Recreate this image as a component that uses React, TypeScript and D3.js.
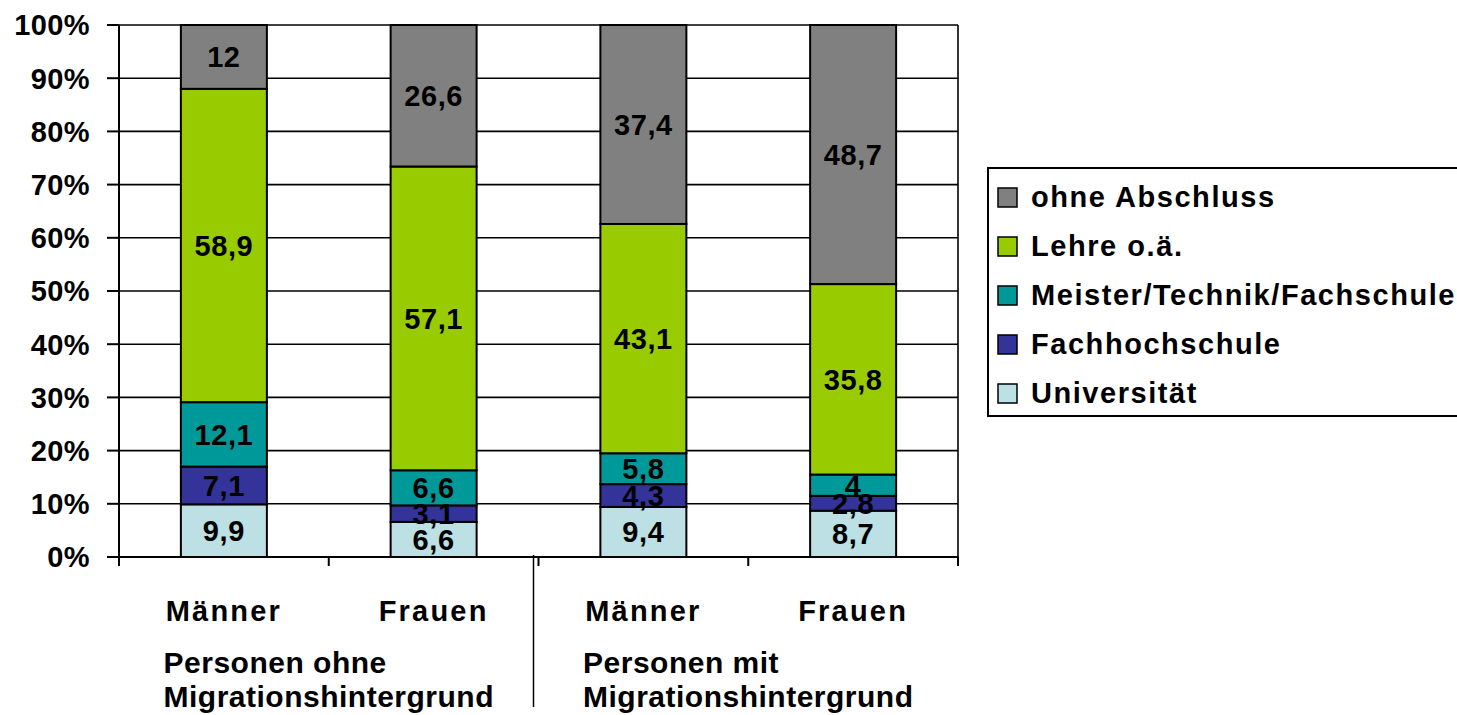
import React, { useEffect, useRef } from 'react';
import * as d3 from 'd3';

const categories = ['Männer', 'Frauen', 'Männer', 'Frauen'];
const groupLabels = [
  ['Personen ohne', 'Migrationshintergrund'],
  ['Personen mit', 'Migrationshintergrund'],
];
const seriesNames = ['Universität', 'Fachhochschule', 'Meister/Technik/Fachschule', 'Lehre o.ä.', 'ohne Abschluss'];
const seriesColors = ['#bce0e3', '#333399', '#009999', '#99cc00', '#808080'];

const universitaet = [9.9, 6.6, 9.4, 8.7];
const fachhochschule = [7.1, 3.1, 4.3, 2.8];
const meister = [12.1, 6.6, 5.8, 4];
const lehre = [58.9, 57.1, 43.1, 35.8];
const ohneAbschluss = [12, 26.6, 37.4, 48.7];

const yTicks = [0, 10, 20, 30, 40, 50, 60, 70, 80, 90, 100];

const FONT = '"Liberation Sans", Arial, Helvetica, sans-serif';

const App: React.FC = () => {
  const svgRef = useRef<SVGSVGElement>(null);

  useEffect(() => {
    if (!svgRef.current) return;
    const svg = d3.select(svgRef.current);
    svg.selectAll('*').remove();

    const width = 1457;
    const height = 715;
    const margin = { left: 119, right: 1457 - 958, top: 25, bottom: 715 - 557 };
    const plotW = width - margin.left - margin.right;
    const plotH = height - margin.top - margin.bottom;

    svg.attr('width', width).attr('height', height)
      .style('font-family', FONT)
      .style('font-weight', 'bold');

    const series = [universitaet, fachhochschule, meister, lehre, ohneAbschluss];
    const table = categories.map((c, i) => {
      const row: any = { idx: i };
      seriesNames.forEach((s, j) => { row[s] = series[j][i]; });
      return row;
    });

    const x = d3.scaleBand<number>()
      .domain(categories.map((_, i) => i))
      .range([0, plotW])
      .paddingInner(0.59)
      .paddingOuter(0.295);
    const step = plotW / categories.length;

    const y = d3.scaleLinear().domain([0, 100]).range([plotH, 0]);

    const g = svg.append('g').attr('transform', `translate(${margin.left},${margin.top})`);

    // gridlines
    g.selectAll('line.grid')
      .data(yTicks.filter(t => t > 0))
      .enter().append('line')
      .attr('x1', 0).attr('x2', plotW)
      .attr('y1', d => y(d)).attr('y2', d => y(d))
      .attr('stroke', '#000').attr('stroke-width', 1.6);

    // right border
    g.append('line')
      .attr('x1', plotW).attr('x2', plotW)
      .attr('y1', 0).attr('y2', plotH)
      .attr('stroke', '#000').attr('stroke-width', 1.6);

    const stack = d3.stack<any>().keys(seriesNames);
    const stacked = stack(table);

    const layers = g.selectAll('g.layer')
      .data(stacked)
      .enter().append('g')
      .attr('fill', (_, i) => seriesColors[i]);

    layers.selectAll('rect')
      .data(d => d)
      .enter().append('rect')
      .attr('x', (d: any) => x(d.data.idx) as number)
      .attr('width', x.bandwidth())
      .attr('y', d => y(d[1]))
      .attr('height', d => y(d[0]) - y(d[1]))
      .attr('stroke', '#000')
      .attr('stroke-width', 2);

    // value labels
    stacked.forEach((layer) => {
      g.append('g').selectAll('text')
        .data(layer)
        .enter().append('text')
        .attr('x', (d: any) => (x(d.data.idx) as number) + x.bandwidth() / 2)
        .attr('y', d => (y(d[0]) + y(d[1])) / 2)
        .attr('dy', '0.36em')
        .attr('text-anchor', 'middle')
        .attr('font-size', 29)
        .attr('letter-spacing', 0.6)
        .attr('fill', '#000')
        .text(d => String(+(d[1] - d[0]).toFixed(1)).replace('.', ','));
    });

    // y axis
    g.append('line')
      .attr('x1', 0).attr('x2', 0).attr('y1', 0).attr('y2', plotH)
      .attr('stroke', '#000').attr('stroke-width', 2);
    g.selectAll('line.ytick')
      .data(yTicks)
      .enter().append('line')
      .attr('x1', -12).attr('x2', 0)
      .attr('y1', d => y(d)).attr('y2', d => y(d))
      .attr('stroke', '#000').attr('stroke-width', 2);
    g.selectAll('text.ylab')
      .data(yTicks)
      .enter().append('text')
      .attr('x', -29)
      .attr('y', d => y(d))
      .attr('dy', '0.36em')
      .attr('text-anchor', 'end')
      .attr('font-size', 29)
      .attr('letter-spacing', 0.4)
      .text(d => `${d}%`);

    // x axis
    g.append('line')
      .attr('x1', 0).attr('x2', plotW).attr('y1', plotH).attr('y2', plotH)
      .attr('stroke', '#000').attr('stroke-width', 2);
    g.selectAll('line.xtick')
      .data(d3.range(categories.length + 1))
      .enter().append('line')
      .attr('x1', d => d * step).attr('x2', d => d * step)
      .attr('y1', plotH).attr('y2', plotH + 9)
      .attr('stroke', '#000').attr('stroke-width', 2);

    // category labels
    g.selectAll('text.cat')
      .data(categories)
      .enter().append('text')
      .attr('x', (_, i) => (x(i) as number) + x.bandwidth() / 2)
      .attr('y', plotH + 64)
      .attr('text-anchor', 'middle')
      .attr('font-size', 29)
      .attr('letter-spacing', 2.2)
      .text(d => d);

    // group separator
    g.append('line')
      .attr('x1', 2 * step - 5).attr('x2', 2 * step - 5)
      .attr('y1', plotH - 2).attr('y2', plotH + 150)
      .attr('stroke', '#000').attr('stroke-width', 1.5);

    // group labels (left-aligned block, centred under group)
    groupLabels.forEach((lines, gi) => {
      const cx = (gi * 2 + 1) * step;
      const t = g.append('text')
        .attr('font-size', 30)
        .attr('letter-spacing', 0.5);
      lines.forEach((line, li) => {
        t.append('tspan')
          .attr('x', 0)
          .attr('y', plotH + 116 + li * 34)
          .text(line);
      });
      const w = (t.node() as SVGTextElement).getBBox().width;
      t.attr('transform', `translate(${cx - w / 2},0)`);
    });

    // legend
    const legend = svg.append('g').attr('transform', 'translate(988,168)');
    legend.append('rect')
      .attr('x', 0).attr('y', 0).attr('width', 520).attr('height', 248)
      .attr('fill', '#fff').attr('stroke', '#000').attr('stroke-width', 2);
    const legendOrder = d3.range(seriesNames.length).reverse();
    const li = legend.selectAll('g.item')
      .data(legendOrder)
      .enter().append('g')
      .attr('transform', (_, k) => `translate(0,${29 + k * 49})`);
    li.append('rect')
      .attr('x', 10).attr('y', -9).attr('width', 19).attr('height', 19)
      .attr('fill', d => seriesColors[d])
      .attr('stroke', '#000').attr('stroke-width', 1.5);
    li.append('text')
      .attr('x', 43)
      .attr('dy', '0.36em')
      .attr('font-size', 29)
      .attr('letter-spacing', 1.55)
      .text(d => seriesNames[d]);
  }, []);

  return (
    <svg ref={svgRef} style={{ position: 'absolute', left: 0, top: 0, background: '#fff' }} />
  );
};

export default App;
